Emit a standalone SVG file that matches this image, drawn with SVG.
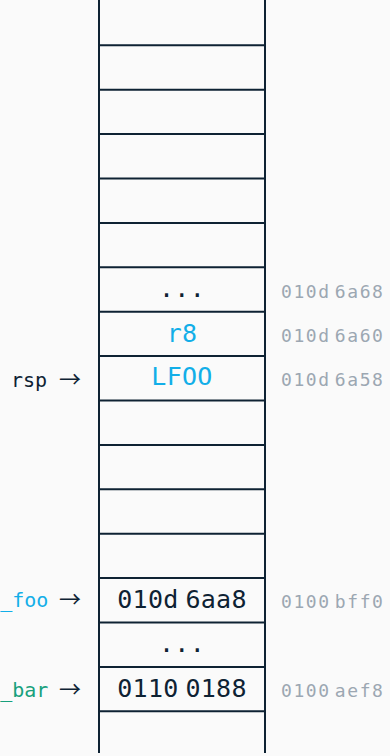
<svg xmlns="http://www.w3.org/2000/svg" width="390" height="756" viewBox="0 0 390 756">
<style>
.bg{fill:#fafafa}
.ln{stroke:#0e2233;stroke-width:2;fill:none}
.val{font-family:"DejaVu Sans Mono","Liberation Mono",monospace;font-size:25px;fill:#0e2233;text-anchor:middle;letter-spacing:0.3px;word-spacing:-8.6px}
.cy{fill:#12aee8}
.gr{fill:#17a07c}
.addr{font-family:"DejaVu Sans Mono","Liberation Mono",monospace;font-size:18px;fill:#9ca7b2;letter-spacing:1.6px;word-spacing:-8.4px}
.lbl{font-family:"DejaVu Sans Mono","Liberation Mono",monospace;font-size:20px;fill:#0e2233;text-anchor:end}
.arr{font-family:"Noto Sans CJK JP","DejaVu Sans",sans-serif;font-size:22px;fill:#0e2233;text-anchor:start}
</style>
<rect class="bg" x="0" y="0" width="390" height="756"/>
<g id="stack">
<line class="ln" x1="99" y1="0" x2="99" y2="753"/>
<line class="ln" x1="265" y1="0" x2="265" y2="753"/>
<line class="ln" x1="99" y1="45.3" x2="265" y2="45.3"/>
<line class="ln" x1="99" y1="89.7" x2="265" y2="89.7"/>
<line class="ln" x1="99" y1="134.1" x2="265" y2="134.1"/>
<line class="ln" x1="99" y1="178.5" x2="265" y2="178.5"/>
<line class="ln" x1="99" y1="222.9" x2="265" y2="222.9"/>
<line class="ln" x1="99" y1="267.3" x2="265" y2="267.3"/>
<line class="ln" x1="99" y1="311.7" x2="265" y2="311.7"/>
<line class="ln" x1="99" y1="356.1" x2="265" y2="356.1"/>
<line class="ln" x1="99" y1="400.5" x2="265" y2="400.5"/>
<line class="ln" x1="99" y1="444.9" x2="265" y2="444.9"/>
<line class="ln" x1="99" y1="489.3" x2="265" y2="489.3"/>
<line class="ln" x1="99" y1="533.7" x2="265" y2="533.7"/>
<line class="ln" x1="99" y1="578.1" x2="265" y2="578.1"/>
<line class="ln" x1="99" y1="622.5" x2="265" y2="622.5"/>
<line class="ln" x1="99" y1="666.9" x2="265" y2="666.9"/>
<line class="ln" x1="99" y1="711.3" x2="265" y2="711.3"/>
</g>
<g id="cell-dots1">
<text class="val" x="182" y="297.2">...</text>
<text class="addr" x="281" y="297.8">010d 6a68</text>
</g>
<g id="cell-r8">
<text class="val cy" x="182" y="341.6">r8</text>
<text class="addr" x="281" y="341.6">010d 6a60</text>
</g>
<g id="cell-lfoo">
<text class="val cy" x="182" y="385.3">LFOO</text>
<text class="addr" x="281" y="386.3">010d 6a58</text>
</g>
<g id="cell-foo">
<text class="val" x="182" y="608.3">010d 6aa8</text>
<text class="addr" x="281" y="608.3">0100 bff0</text>
</g>
<g id="cell-dots2">
<text class="val" x="182" y="651.6">...</text>
</g>
<g id="cell-bar">
<text class="val" x="182" y="696.7">0110 0188</text>
<text class="addr" x="281" y="696.7">0100 aef8</text>
</g>
<g id="connectors">
<text class="lbl" y="386.6"><tspan x="47">rsp</tspan><tspan class="arr" x="59">→</tspan></text>
<text class="lbl" y="606.6"><tspan class="cy" x="48.4">_foo</tspan><tspan class="arr" x="59">→</tspan></text>
<text class="lbl" y="696.6"><tspan class="gr" x="48.4">_bar</tspan><tspan class="arr" x="59">→</tspan></text>
</g>
</svg>
